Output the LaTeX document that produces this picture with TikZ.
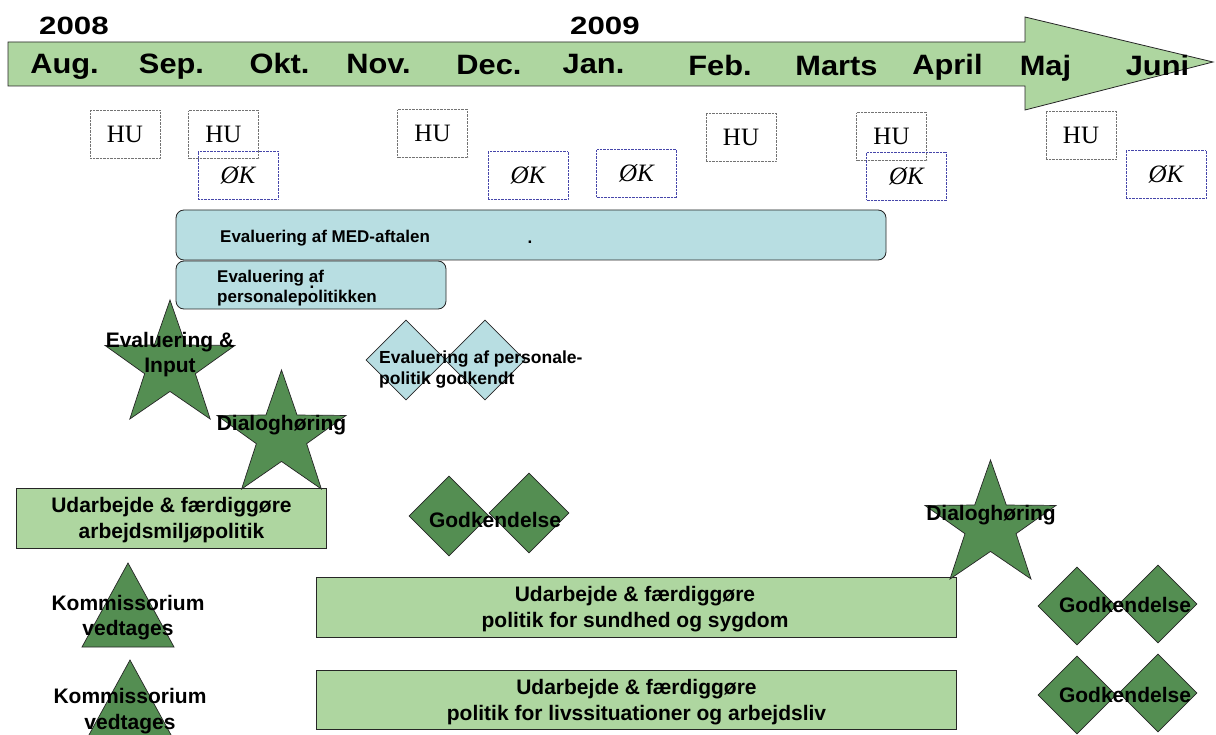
\documentclass[tikz,border=0pt]{standalone}
\usepackage{fontspec}
\usepackage{graphicx}
\setmainfont{Liberation Sans}
\newfontfamily\timesfont{Liberation Serif}
\usetikzlibrary{shapes.geometric}
\definecolor{lgreen}{RGB}{174,214,160}
\definecolor{dgreen}{RGB}{84,142,82}
\definecolor{lblue}{RGB}{184,222,226}
\definecolor{okblue}{RGB}{70,70,170}
\newcommand{\pptstar}[4]{% cx, top, w, h
  \begin{scope}[shift={(#1,{#2+#4/1.809})}, xscale={#3/1.902}, yscale={#4/1.809}]
    \draw[starfill] (270:1)
      \foreach \a/\f in {306/0.39,342/1,18/0.39,54/1,90/0.39,126/1,162/0.39,198/1,234/0.39}{ -- (\a:\f) } -- cycle;
  \end{scope}}
\newcommand{\mo}[1]{\scalebox{1.1}[1]{#1}}
\newcommand{\yr}[1]{\scalebox{1.25}[1]{#1}}
\begin{document}
\begin{tikzpicture}[x=1pt,y=-1pt,
  month/.style={font=\fontsize{28}{32}\selectfont\bfseries, anchor=base, inner sep=0pt},
  hubox/.style={draw=black!55, densely dotted, minimum width=70pt, minimum height=48pt, inner sep=0pt, font=\timesfont\fontsize{25}{28}\selectfont},
  okbox/.style={draw=okblue, densely dotted, minimum width=80pt, minimum height=48pt, inner sep=0pt, font=\timesfont\itshape\fontsize{25}{28}\selectfont},
  bluebox/.style={draw=black!85, line width=0.8pt, fill=lblue, rounded corners=8pt, inner sep=0pt},
  greenbox/.style={draw=black!85, line width=0.8pt, fill=lgreen, inner sep=0pt},
  starfill/.style={draw=black!85, line width=0.7pt, fill=dgreen},
  dia/.style={diamond, draw=black!85, line width=0.7pt, inner sep=0pt, minimum width=#1, minimum height=#1},
  lbl/.style={font=\fontsize{21}{25.5}\selectfont\bfseries, align=center, inner sep=0pt},
  sml/.style={font=\fontsize{17}{19.5}\selectfont\bfseries, align=left, inner sep=0pt},
]
\useasboundingbox (0,0) rectangle (1216,735);
\fill[white] (0,0) rectangle (1216,735);

% timeline arrow
\draw[fill=lgreen, draw=black!85, line width=0.8pt]
  (8,42) -- (1025,42) -- (1025,17) -- (1213,62) -- (1025,110) -- (1025,86) -- (8,86) -- cycle;
\node[month, font=\fontsize{25}{28}\selectfont\bfseries] (y2008) at (74,34.3) {\yr{2008}};
\node[month, font=\fontsize{25}{28}\selectfont\bfseries] (y2009) at (605,34.3) {\yr{2009}};
\node[month] (aug) at (64.5,74) {\mo{Aug.}};
\node[month] (sep) at (171.5,74) {\mo{Sep.}};
\node[month] (okt) at (279.5,74) {\mo{Okt.}};
\node[month] (nov) at (378.5,74) {\mo{Nov.}};
\node[month] (dec) at (489,75) {\mo{Dec.}};
\node[month] (jan) at (593.5,74) {\mo{Jan.}};
\node[month] (feb) at (720,76) {\mo{Feb.}};
\node[month] (marts) at (836.5,75.5) {\mo{Marts}};
\node[month] (april) at (947.5,74.5) {\mo{April}};
\node[month] (maj) at (1045.5,76) {\mo{Maj}};
\node[month] (juni) at (1157.5,76) {\mo{Juni}};

% meetings
\node[hubox] (hu1) at (125,134.5) {HU};
\node[hubox] (hu2) at (223.5,134.5) {HU};
\node[hubox] (hu3) at (432.5,133.5) {HU};
\node[hubox] (hu4) at (741,137) {HU};
\node[hubox] (hu5) at (891.5,136.5) {HU};
\node[hubox] (hu6) at (1081,135) {HU};
\node[okbox] (ok1) at (238,175) {ØK};
\node[okbox] (ok2) at (528,175.5) {ØK};
\node[okbox] (ok3) at (636.5,173.5) {ØK};
\node[okbox] (ok4) at (906.5,176) {ØK};
\node[okbox] (ok5) at (1166,174.5) {ØK};

% evaluation bars
\node[bluebox, minimum width=710pt, minimum height=50pt] (med) at (531,235) {};
\node[sml, anchor=west] (medt) at (220,238) {Evaluering af MED-aftalen};
\node[sml, anchor=base] (dot1) at (530,244) {.};
\node[bluebox, minimum width=270pt, minimum height=48pt] (pers) at (311,285) {};
\node[sml, anchor=west] (perst) at (217,288) {Evaluering af\\personalepolitikken};
\node[sml, anchor=base] (dot2) at (312,289) {.};

% light blue milestone
\node[dia=80pt, fill=lblue] (lb1) at (406,360) {};
\node[dia=80pt, fill=lblue] (lb2) at (485,360) {};
\node[sml, font=\fontsize{17.5}{21}\selectfont\bfseries, anchor=west] (lbt) at (379,369.5) {Evaluering af personale-\\politik godkendt};

% green bars
\node[greenbox, minimum width=310pt, minimum height=60pt] (arb) at (171,518) {};
\node[greenbox, minimum width=640pt, minimum height=60pt] (sund) at (636,607) {};
\node[greenbox, minimum width=640pt, minimum height=59pt] (livs) at (636,699.5) {};
\node[lbl] (arbt) at (171.5,520) {Udarbejde \& færdiggøre\\arbejdsmiljøpolitik};
\node[lbl] (sundt) at (635,609) {Udarbejde \& færdiggøre\\politik for sundhed og sygdom};
\node[lbl] (livst) at (636.5,702) {Udarbejde \& færdiggøre\\politik for livssituationer og arbejdsliv};

% stars
\pptstar{170}{300}{130}{119}
\pptstar{281.5}{370}{129}{119}
\pptstar{990.5}{460}{131}{119}
\node[lbl] (s1t) at (170,354.5) {Evaluering \&\\Input};
\node[lbl] (s2t) at (281.5,425) {Dialoghøring};
\node[lbl] (s3t) at (991,515) {Dialoghøring};

% triangles
\draw[starfill] (128,563) -- (174,647) -- (82,647) -- cycle;
\draw[starfill] (130,660) -- (176,744) -- (84,744) -- cycle;
\node[lbl] (k1t) at (128,617.5) {Kommissorium\\vedtages};
\node[lbl] (k2t) at (130,711) {Kommissorium\\vedtages};

% approval diamonds
\node[dia=80pt, fill=dgreen] (g1a) at (449,516) {};
\node[dia=80pt, fill=dgreen] (g1b) at (529,513) {};
\node[lbl] (g1t) at (495,520) {Godkendelse};
\node[dia=78pt, fill=dgreen] (g2a) at (1077,606) {};
\node[dia=78pt, fill=dgreen] (g2b) at (1158,604) {};
\node[lbl] (g2t) at (1125,605) {Godkendelse};
\node[dia=78pt, fill=dgreen] (g3a) at (1077,695) {};
\node[dia=78pt, fill=dgreen] (g3b) at (1158,693) {};
\node[lbl] (g3t) at (1125,695) {Godkendelse};
\end{tikzpicture}
\end{document}
